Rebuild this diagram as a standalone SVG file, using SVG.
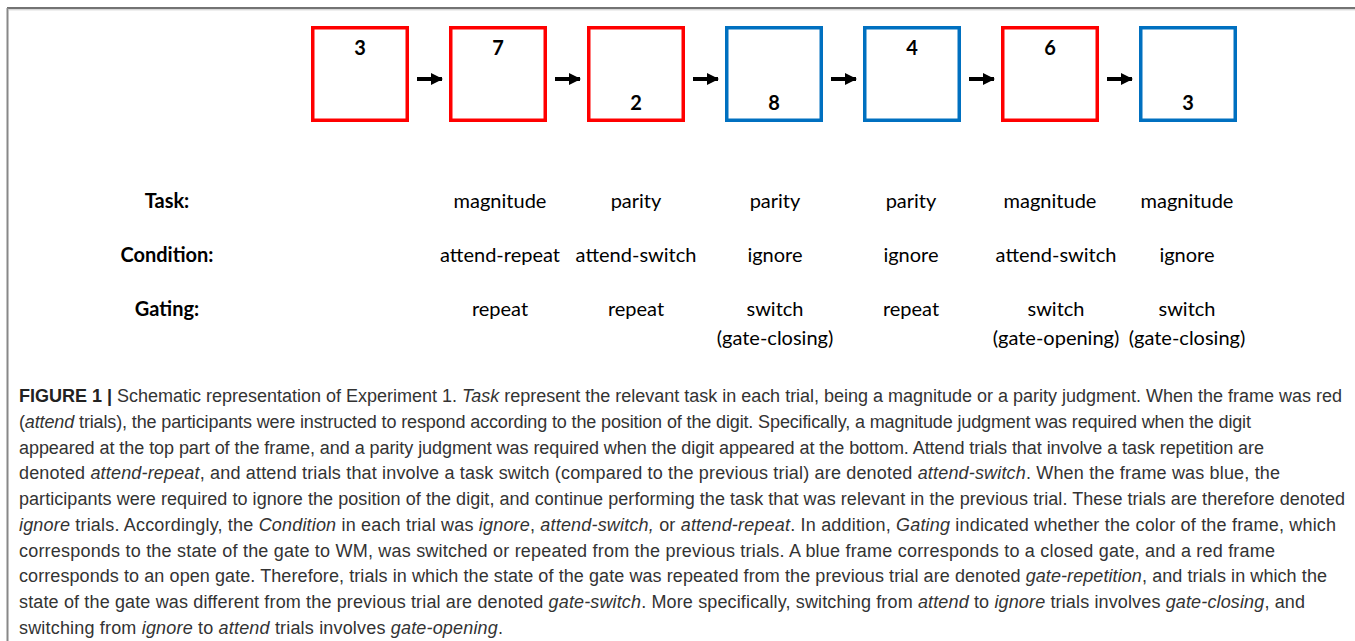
<svg xmlns="http://www.w3.org/2000/svg" width="1355" height="641" viewBox="0 0 1355 641">
<style>
.frame{fill:none;stroke-width:3.5}
.red{stroke:#FF0000}
.blue{stroke:#0070C0}
.digit{font-family:Lato,"Liberation Sans",sans-serif;font-weight:bold;font-size:20px;fill:#000;text-anchor:middle}
.hdr{font-family:Lato,"Liberation Sans",sans-serif;font-weight:bold;font-size:20px;fill:#000;text-anchor:middle}
.val{font-family:Lato,"Liberation Sans",sans-serif;font-size:20px;fill:#000;text-anchor:middle}
.cap{font-family:"Liberation Sans",Arial,sans-serif;font-size:18px;fill:#333}
.i{font-style:italic}
.b{font-weight:bold;fill:#222}
.arrow{stroke:#000;stroke-width:4;marker-end:url(#ah)}
</style>
<defs>
<marker id="ah" markerUnits="userSpaceOnUse" markerWidth="14" markerHeight="14" refX="11" refY="7" orient="auto">
<path d="M0,1 L12,7 L0,13 Z" fill="#000"/>
</marker>
</defs>
<rect width="1355" height="641" fill="#fff"/>
<line x1="7" y1="8" x2="1355" y2="8" stroke="#444" stroke-width="1.6"/>
<line x1="9" y1="9.8" x2="1355" y2="9.8" stroke="#c8c8c8" stroke-width="1"/>
<line x1="7.5" y1="8" x2="7.5" y2="641" stroke="#888" stroke-width="2"/>

<g id="trial1"><rect class="frame red" x="312.75" y="27.75" width="94.5" height="92.5"/><text class="digit" x="360" y="55">3</text></g>
<g id="trial2"><rect class="frame red" x="450.75" y="27.75" width="94.5" height="92.5"/><text class="digit" x="498" y="55">7</text></g>
<g id="trial3"><rect class="frame red" x="588.75" y="27.75" width="94.5" height="92.5"/><text class="digit" x="636" y="110">2</text></g>
<g id="trial4"><rect class="frame blue" x="726.75" y="27.75" width="94.5" height="92.5"/><text class="digit" x="774" y="110">8</text></g>
<g id="trial5"><rect class="frame blue" x="864.75" y="27.75" width="94.5" height="92.5"/><text class="digit" x="912" y="55">4</text></g>
<g id="trial6"><rect class="frame red" x="1002.75" y="27.75" width="94.5" height="92.5"/><text class="digit" x="1050" y="55">6</text></g>
<g id="trial7"><rect class="frame blue" x="1140.75" y="27.75" width="94.5" height="92.5"/><text class="digit" x="1188" y="110">3</text></g>

<g id="connectors">
<line class="arrow" x1="417" y1="79" x2="442" y2="79"/>
<line class="arrow" x1="555" y1="79" x2="580" y2="79"/>
<line class="arrow" x1="693" y1="79" x2="718" y2="79"/>
<line class="arrow" x1="831" y1="79" x2="856" y2="79"/>
<line class="arrow" x1="969" y1="79" x2="994" y2="79"/>
<line class="arrow" x1="1107" y1="79" x2="1132" y2="79"/>
</g>

<g id="row-headers">
<text class="hdr" x="167" y="208">Task:</text>
<text class="hdr" x="167" y="262">Condition:</text>
<text class="hdr" x="167" y="316">Gating:</text>
</g>

<g id="task-row">
<text class="val" x="500" y="208">magnitude</text>
<text class="val" x="636" y="208">parity</text>
<text class="val" x="775" y="208">parity</text>
<text class="val" x="911" y="208">parity</text>
<text class="val" x="1050" y="208">magnitude</text>
<text class="val" x="1187" y="208">magnitude</text>
</g>
<g id="condition-row">
<text class="val" x="500" y="262">attend-repeat</text>
<text class="val" x="636" y="262">attend-switch</text>
<text class="val" x="775" y="262">ignore</text>
<text class="val" x="911" y="262">ignore</text>
<text class="val" x="1056" y="262">attend-switch</text>
<text class="val" x="1187" y="262">ignore</text>
</g>
<g id="gating-row">
<text class="val" x="500" y="316">repeat</text>
<text class="val" x="636" y="316">repeat</text>
<text class="val" x="775" y="316">switch</text>
<text class="val" x="775" y="345">(gate-closing)</text>
<text class="val" x="911" y="316">repeat</text>
<text class="val" x="1056" y="316">switch</text>
<text class="val" x="1056" y="345">(gate-opening)</text>
<text class="val" x="1187" y="316">switch</text>
<text class="val" x="1187" y="345">(gate-closing)</text>
</g>

<g id="caption" class="cap">
<text x="19" y="402" textLength="1323" lengthAdjust="spacing"><tspan class="b">FIGURE 1 | </tspan>Schematic representation of Experiment 1. <tspan class="i">Task</tspan> represent the relevant task in each trial, being a magnitude or a parity judgment. When the frame was red</text>
<text x="19" y="428" textLength="1232" lengthAdjust="spacing">(<tspan class="i">attend</tspan> trials), the participants were instructed to respond according to the position of the digit. Specifically, a magnitude judgment was required when the digit</text>
<text x="19" y="454" textLength="1245" lengthAdjust="spacing">appeared at the top part of the frame, and a parity judgment was required when the digit appeared at the bottom. Attend trials that involve a task repetition are</text>
<text x="19" y="479" textLength="1261" lengthAdjust="spacing">denoted <tspan class="i">attend-repeat</tspan>, and attend trials that involve a task switch (compared to the previous trial) are denoted <tspan class="i">attend-switch</tspan>. When the frame was blue, the</text>
<text x="19" y="505" textLength="1326" lengthAdjust="spacing">participants were required to ignore the position of the digit, and continue performing the task that was relevant in the previous trial. These trials are therefore denoted</text>
<text x="19" y="531" textLength="1317" lengthAdjust="spacing"><tspan class="i">ignore</tspan> trials. Accordingly, the <tspan class="i">Condition</tspan> in each trial was <tspan class="i">ignore</tspan>, <tspan class="i">attend-switch,</tspan> or <tspan class="i">attend-repeat</tspan>. In addition, <tspan class="i">Gating</tspan> indicated whether the color of the frame, which</text>
<text x="19" y="557" textLength="1256" lengthAdjust="spacing">corresponds to the state of the gate to WM, was switched or repeated from the previous trials. A blue frame corresponds to a closed gate, and a red frame</text>
<text x="19" y="582" textLength="1308" lengthAdjust="spacing">corresponds to an open gate. Therefore, trials in which the state of the gate was repeated from the previous trial are denoted <tspan class="i">gate-repetition</tspan>, and trials in which the</text>
<text x="19" y="608" textLength="1286" lengthAdjust="spacing">state of the gate was different from the previous trial are denoted <tspan class="i">gate-switch</tspan>. More specifically, switching from <tspan class="i">attend</tspan> to <tspan class="i">ignore</tspan> trials involves <tspan class="i">gate-closing</tspan>, and</text>
<text x="19" y="634" textLength="484" lengthAdjust="spacing">switching from <tspan class="i">ignore</tspan> to <tspan class="i">attend</tspan> trials involves <tspan class="i">gate-opening</tspan>.</text>
</g>
</svg>
